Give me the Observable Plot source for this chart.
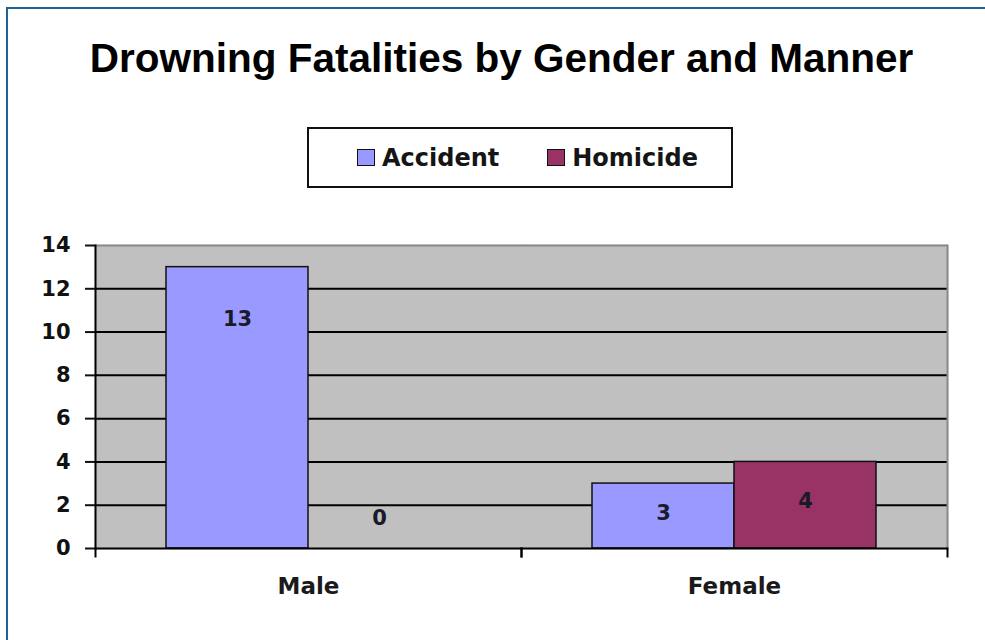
<!DOCTYPE html>
<html>
<head>
<meta charset="utf-8">
<script src="https://cdn.jsdelivr.net/npm/d3@7"></script>
<script src="https://cdn.jsdelivr.net/npm/@observablehq/plot@0.6"></script>
<style>
  html, body { margin: 0; padding: 0; background: #fff; overflow: hidden; }
  #page { position: relative; width: 985px; height: 640px; overflow: hidden; background: #fff; }
  #border { position: absolute; left: 6px; top: 7px; width: 1000px; height: 700px;
            border-top: 2px solid #1d6398; border-left: 2px solid #1d6398; }
  #title { position: absolute; left: 0; width: 1003px; top: 38px; text-align: center;
           font: bold 40.5px "Liberation Sans", Arial, sans-serif; line-height: 40px; color: #000; white-space: nowrap; }
  #legend { position: absolute; left: 307px; top: 127px; width: 426px; height: 61px; box-sizing: border-box;
            border: 2px solid #111; display: flex; align-items: center; padding-left: 48px;
            font: bold 24px "DejaVu Sans", sans-serif; color: #151515; }
  .item { display: flex; align-items: center; }
  .item + .item { margin-left: 48px; }
  .sw { display: inline-block; width: 16px; height: 15px; border: 1.5px solid #111; margin-right: 7px; }
  #chart { position: absolute; left: 0; top: 200px; }
</style>
</head>
<body>
<div id="page">
  <div id="border"></div>
  <div id="title"></div>
  <div id="legend"></div>
  <div id="chart"></div>
</div>
<script>
// ---- data ----
const titleText = "Drowning Fatalities by Gender and Manner";
const genders = ["Male", "Female"];
const manners = ["Accident", "Homicide"];
const accident = [13, 3];
const homicide = [0, 4];
const yTicks = [0, 2, 4, 6, 8, 10, 12, 14];
const colors = ["#9999ff", "#993366"];

const series = {Accident: accident, Homicide: homicide};
const table = [];
genders.forEach((g, i) => manners.forEach(m => table.push({gender: g, manner: m, value: series[m][i]})));

document.getElementById("title").textContent = titleText;
const legend = document.getElementById("legend");
manners.forEach((m, i) => {
  const it = document.createElement("div");
  it.className = "item";
  const sw = document.createElement("span");
  sw.className = "sw";
  sw.style.background = colors[i];
  const tx = document.createElement("span");
  tx.textContent = m;
  it.appendChild(sw); it.appendChild(tx);
  legend.appendChild(it);
});

// label placement (Excel-like data label positions)
const labelY = d => d.value > 5 ? d.value - 2.4 : Math.max(d.value * 0.55, 1.4);

const H = 440, MT = 45, MB = 92;
const chart = Plot.plot({
  width: 985, height: H,
  marginTop: MT, marginBottom: MB, marginLeft: 95, marginRight: 38,
  style: {fontFamily: '"DejaVu Sans", sans-serif', fontSize: "21px", color: "#1a1a1a", background: "transparent", overflow: "visible"},
  fx: {domain: genders, padding: 0, axis: null, label: null},
  x: {domain: manners, paddingInner: 0, paddingOuter: 0.5, axis: null},
  y: {domain: [0, 14], axis: null, label: null},
  color: {domain: manners, range: colors},
  marks: [
    Plot.frame({fill: "#c0c0c0", stroke: "#c0c0c0", strokeWidth: 1.5}),
    Plot.gridY(yTicks.filter(t => t > 0 && t < 14), {stroke: "#000", strokeOpacity: 1, strokeWidth: 2}),
    Plot.ruleY([14], {stroke: "#8a8a8a", strokeWidth: 2}),
    Plot.frame({anchor: "right", facetAnchor: "right", stroke: "#8a8a8a", strokeWidth: 2}),
    Plot.barY(table, {fx: "gender", x: "manner", y: "value", fill: "manner", stroke: "#111", strokeWidth: 1.5}),
    Plot.ruleY([0], {stroke: "#000", strokeWidth: 2}),
    Plot.frame({anchor: "left", facetAnchor: "left", stroke: "#000", strokeWidth: 2}),
    Plot.frame({anchor: "left", stroke: "#000", strokeWidth: 2, insetTop: H - MT - MB, insetBottom: -8}),
    Plot.frame({anchor: "right", stroke: "#000", strokeWidth: 2, insetTop: H - MT - MB, insetBottom: -8}),
    Plot.axisY({ticks: yTicks, label: null, tickSize: 10, tickPadding: 15, strokeWidth: 2, fontWeight: "bold", fontSize: 21, color: "#111"}),
    Plot.axisFx({anchor: "bottom", label: null, tickSize: 0, tickPadding: 29, fontSize: 23, fontWeight: "bold", color: "#1a1a1a"}),
    Plot.text(table, {fx: "gender", x: "manner", y: labelY, text: d => String(d.value), fontSize: 21, fontWeight: "bold", fill: "#1a1a2a"})
  ]
});
document.getElementById("chart").appendChild(chart);
</script>
</body>
</html>
